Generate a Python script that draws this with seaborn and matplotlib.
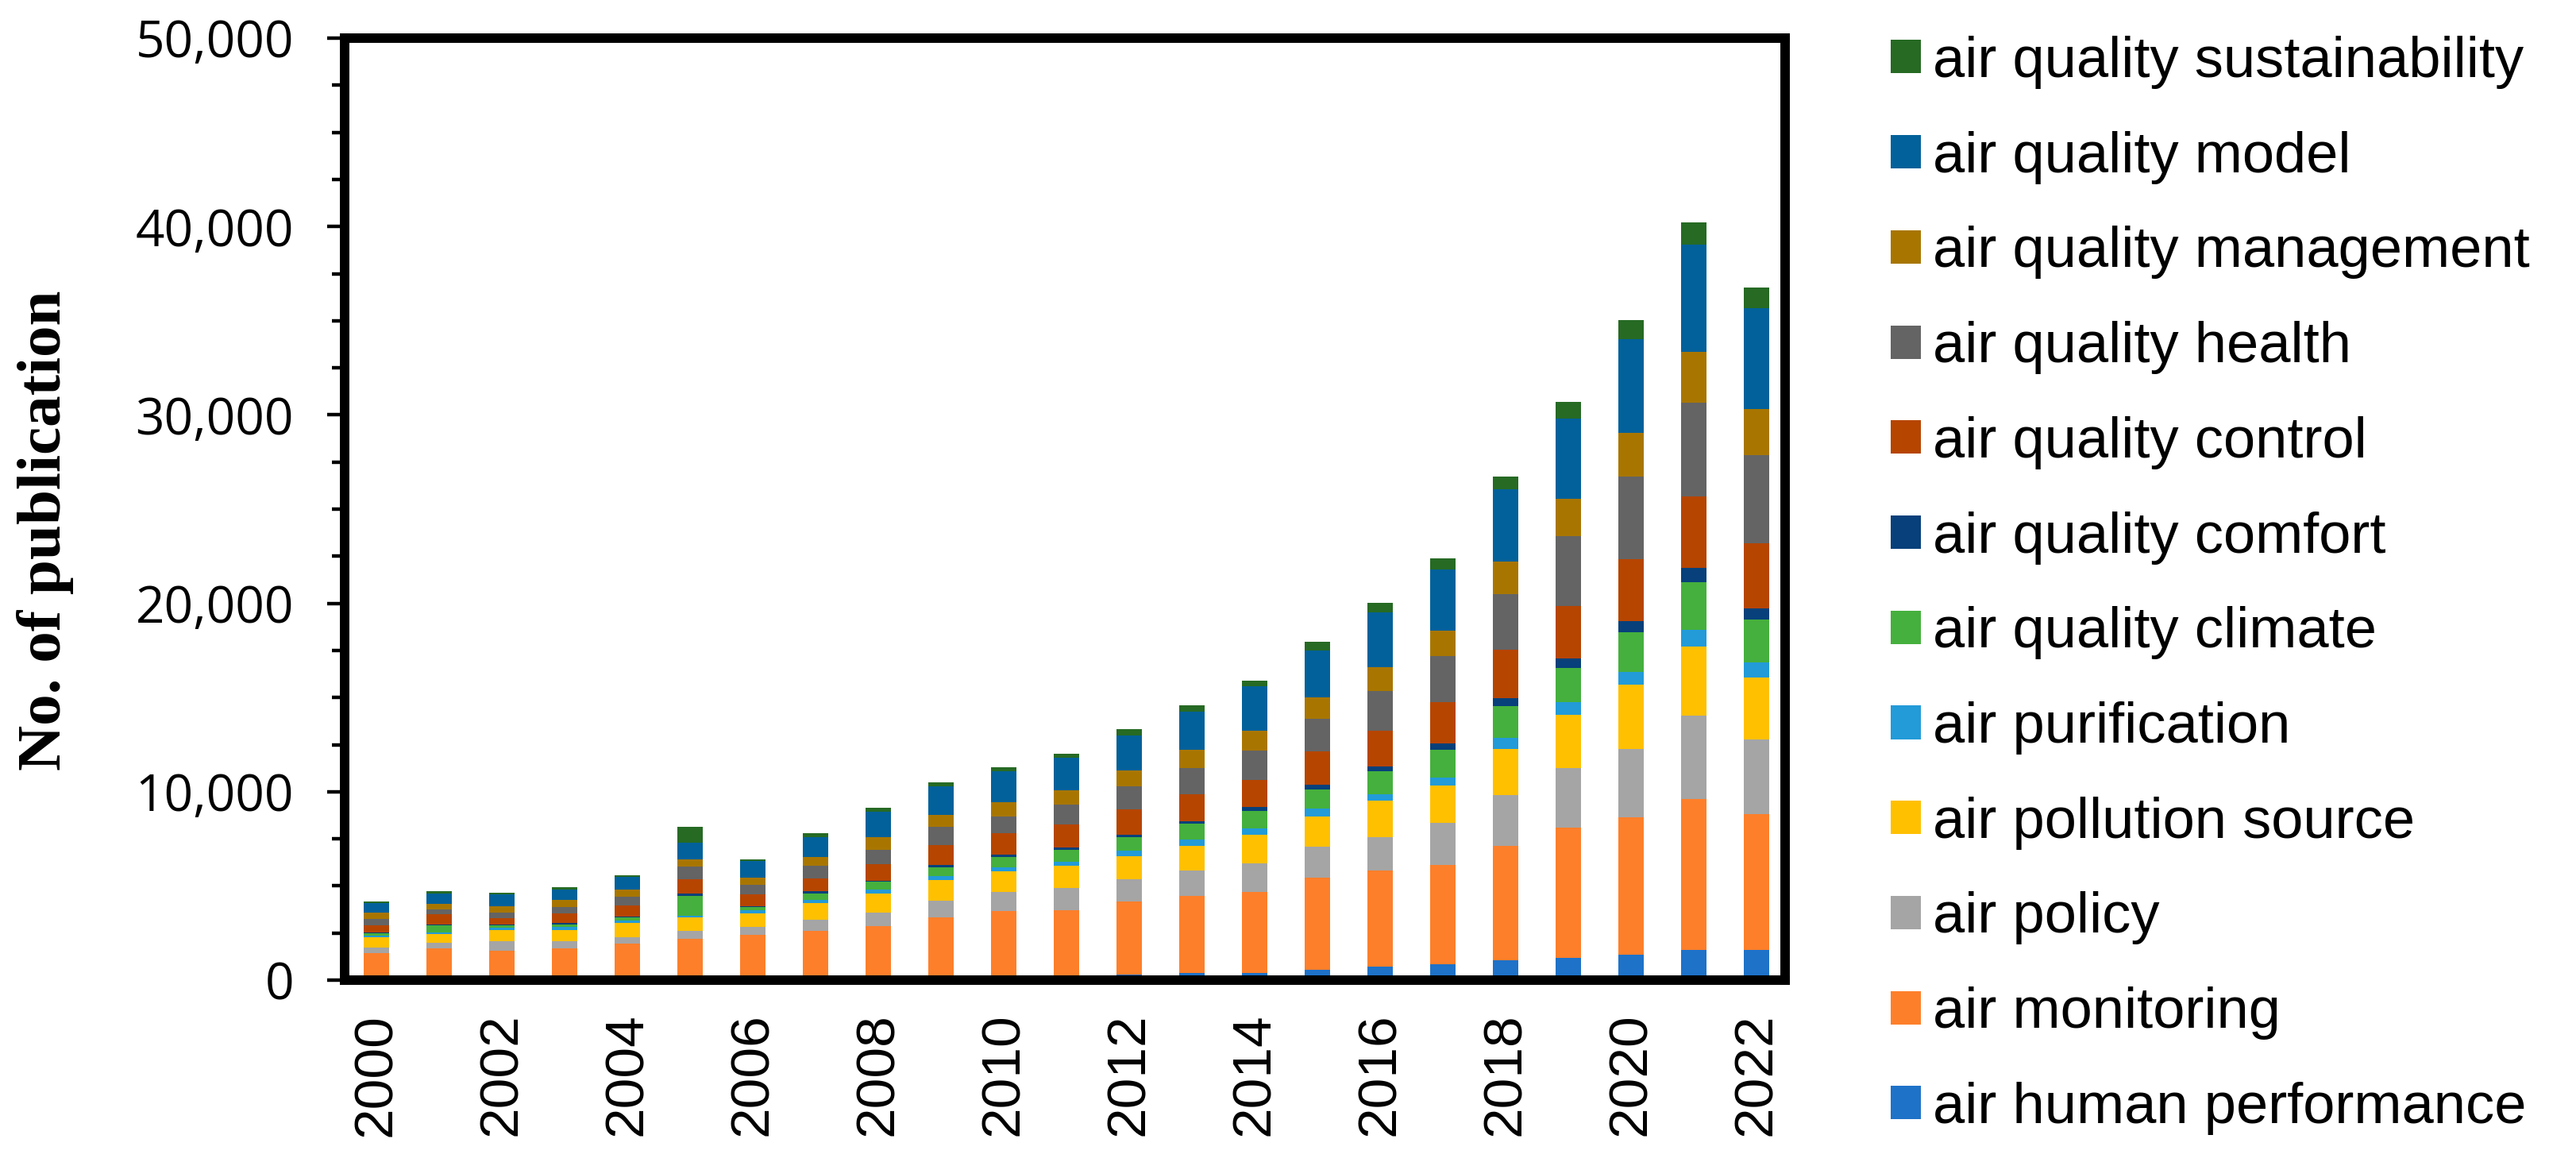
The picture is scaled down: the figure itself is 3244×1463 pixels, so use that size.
import numpy as np
import pandas as pd
import matplotlib
matplotlib.use("Agg")
import matplotlib.pyplot as plt
from matplotlib.ticker import MultipleLocator, StrMethodFormatter
import seaborn as sns

years = [str(y) for y in range(2000, 2023)]

# series, bottom -> top of each stack
human_performance = [100, 100, 100, 100, 170, 170, 170, 240, 240, 250, 250, 230, 310, 380,
                     370, 550, 700, 850, 1050, 1160, 1330, 1590, 1590]
monitoring = [1340, 1580, 1480, 1580, 1760, 2015, 2225, 2380, 2610, 3085, 3400, 3480, 3850, 4070,
              4300, 4890, 5110, 5250, 6090, 6950, 7320, 8030, 7230]
policy = [280, 310, 465, 365, 365, 425, 425, 590, 735, 890, 1045, 1200, 1200, 1355,
          1510, 1630, 1780, 2250, 2690, 3150, 3610, 4400, 3970]
pollution_source = [565, 435, 620, 620, 735, 705, 735, 875, 1015, 1100, 1085, 1170, 1225, 1310,
                    1540, 1615, 1930, 1990, 2455, 2825, 3430, 3705, 3280]
purification = [70, 85, 115, 140, 115, 115, 140, 185, 225, 210, 210, 210, 280, 350,
                330, 440, 345, 420, 580, 670, 650, 880, 800]
climate = [115, 380, 115, 155, 170, 1045, 170, 340, 395, 450, 565, 635, 735, 845,
           935, 995, 1220, 1450, 1690, 1805, 2130, 2535, 2265]
comfort = [55, 70, 70, 55, 70, 100, 55, 115, 70, 125, 115, 100, 100, 125,
           195, 270, 255, 360, 395, 510, 580, 720, 585]
control = [395, 520, 310, 535, 590, 760, 650, 675, 875, 1045, 1125, 1225, 1355, 1450,
           1465, 1750, 1900, 2185, 2595, 2800, 3310, 3810, 3465]
health = [325, 280, 295, 310, 450, 690, 480, 690, 745, 985, 890, 1055, 1225, 1365,
          1555, 1735, 2110, 2430, 2940, 3680, 4355, 4960, 4665]
management = [340, 270, 365, 380, 365, 380, 380, 465, 675, 635, 775, 775, 845, 985,
              1025, 1130, 1280, 1355, 1715, 2015, 2340, 2720, 2480]
model = [505, 580, 605, 580, 675, 900, 875, 1030, 1365, 1510, 1635, 1735, 1875, 2015,
         2370, 2490, 2895, 3240, 3845, 4260, 4955, 5680, 5330]
sustainability = [100, 100, 100, 115, 100, 845, 100, 195, 185, 225, 185, 210, 310, 325,
                  315, 450, 515, 605, 670, 855, 1040, 1200, 1120]

labels = ["air human performance", "air monitoring", "air policy", "air pollution source",
          "air purification", "air quality climate", "air quality comfort", "air quality control",
          "air quality health", "air quality management", "air quality model",
          "air quality sustainability"]
colors = ["#1E72C8", "#FE7F2A", "#A5A5A5", "#FFC000", "#229BD8", "#45B03D",
          "#07407A", "#B64500", "#646464", "#A87600", "#02619A", "#266A24"]

df = pd.DataFrame(np.array([human_performance, monitoring, policy, pollution_source, purification,
                            climate, comfort, control, health, management, model,
                            sustainability]).T, columns=labels, index=years)
cum = df.cumsum(axis=1)

sns.set_style("white")
plt.rcParams['font.family'] = ['Liberation Sans', 'DejaVu Sans']
plt.rcParams['text.color'] = 'black'
plt.rcParams['axes.labelcolor'] = 'black'
plt.rcParams['xtick.color'] = 'black'
plt.rcParams['ytick.color'] = 'black'

fig = plt.figure(figsize=(32.44, 14.63), dpi=100)
ax = fig.add_axes([434/3244, 1-1234/1463, (2248-434)/3244, (1234-48)/1463])

# stacked bars: draw cumulative totals from the top layer down
for name, c in zip(labels[::-1], colors[::-1]):
    sns.barplot(x=years, y=cum[name].values, color=c, width=0.40, saturation=1,
                edgecolor="none", linewidth=0, errorbar=None, label=name, ax=ax)

ax.set_xlim(-0.506, 22.456)
ax.set_ylim(0, 50000)
ax.yaxis.set_major_locator(MultipleLocator(10000))
ax.yaxis.set_minor_locator(MultipleLocator(2500))
ax.yaxis.set_major_formatter(StrMethodFormatter("{x:,.0f}"))
ax.set_xticks(range(0, 23, 2))
ax.set_xticklabels(years[::2], rotation=90, fontsize=50, family="Liberation Sans", color="black")
ax.tick_params(axis="x", length=0, pad=30)
ax.tick_params(axis="y", which="major", length=16, width=3.2, pad=30, left=True,
               labelsize=46, color="black", labelcolor="black")
ax.tick_params(axis="y", which="minor", length=11.5, width=3.2, left=True, color="black")
for t in ax.get_yticklabels():
    t.set_family("Open Sans")
ax.set_xlabel("")
ax.set_ylabel("")
for s in ax.spines.values():
    s.set_visible(True)
    s.set_color("black")
    s.set_linewidth(8.6)

fig.text(57/3244, 1-668/1463, "No. of publication", rotation=90, ha="center", va="center",
         fontsize=57, fontweight="bold", family="Liberation Serif", color="black")

handles, lbls = ax.get_legend_handles_labels()
leg = ax.legend(handles, lbls, loc="upper left", bbox_to_anchor=(2381/3244, 1-45/1463),
                bbox_transform=fig.transFigure, frameon=False, fontsize=52, borderpad=0,
                borderaxespad=0, labelspacing=0.73, handlelength=0.53, handleheight=0.52,
                handletextpad=0.2)
for t in leg.get_texts():
    t.set_color("black")

fig.savefig("out.png", dpi=100)
